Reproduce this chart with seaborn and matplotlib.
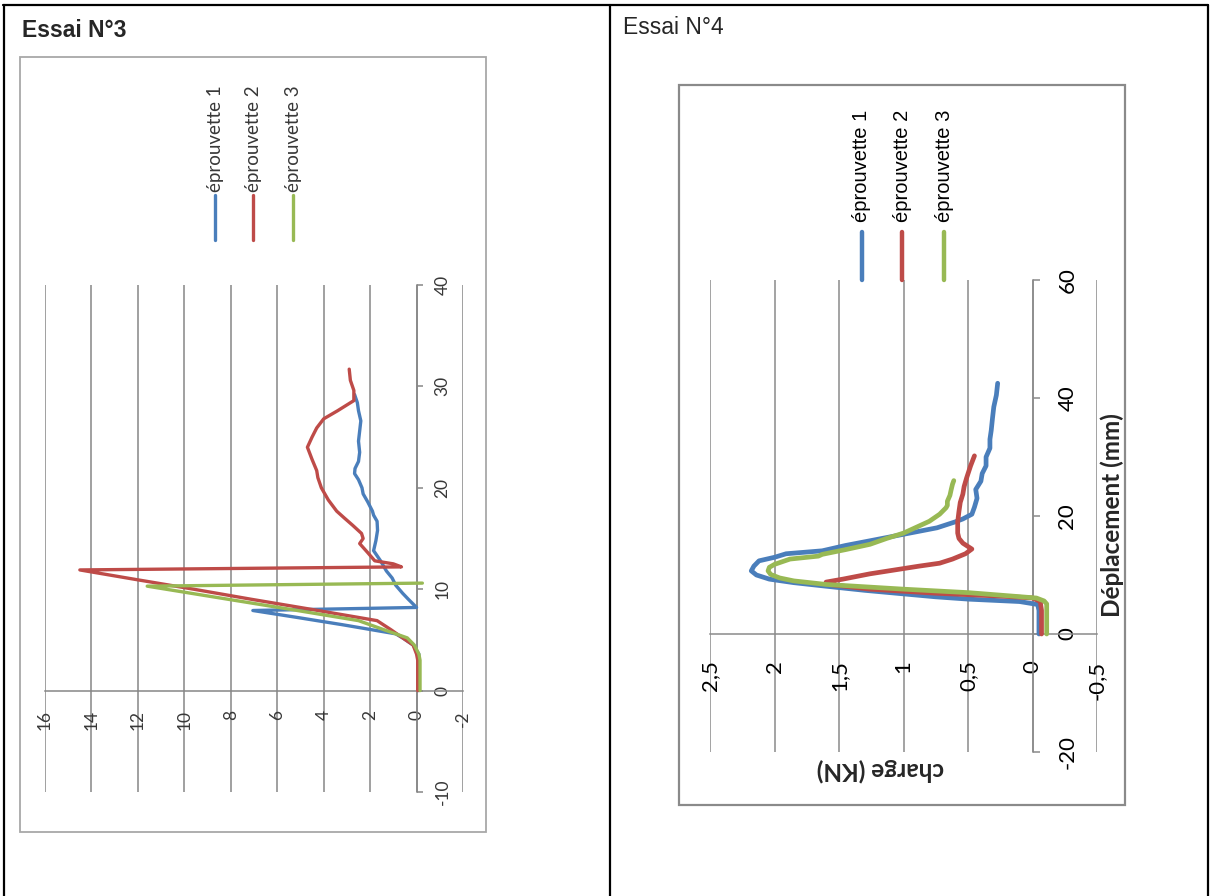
import matplotlib
matplotlib.use("Agg")
import matplotlib.pyplot as plt
import numpy as np
import pandas as pd
import seaborn as sns
from matplotlib.lines import Line2D
from matplotlib.patches import Rectangle
from matplotlib.ticker import FixedLocator, FuncFormatter

# ---------------------------------------------------------------------------
# Données : déplacement (mm) et charge (kN) pour chaque éprouvette
# ---------------------------------------------------------------------------
names = ["éprouvette 1", "éprouvette 2", "éprouvette 3"]
colors = ["#4a7ebb", "#be4b48", "#98b954"]

# Essai N°3
e3_dep_1 = [0, 1, 2, 3, 3.6, 4.5, 5.2, 5.6, 6.5, 7.2, 7.9, 8.2, 9.0, 9.6, 10.4, 11.1,
            11.8, 12.8, 13.8, 14.8, 15.8, 16.7, 17.3, 17.7, 18.6, 19.4, 20.0, 20.8,
            21.4, 21.9, 22.6, 23.5, 24.6, 25.6, 26.6, 27.6, 28.4, 29.2]
e3_chg_1 = [-0.1, -0.1, -0.1, -0.1, -0.1, 0.15, 0.6, 0.9, 3.2, 5.1, 7.05, 0.0, 0.35, 0.6,
            0.9, 1.05, 1.3, 1.55, 1.85, 1.75, 1.68, 1.7, 1.85, 1.9, 2.1, 2.3, 2.35, 2.5,
            2.67, 2.65, 2.5, 2.45, 2.5, 2.45, 2.4, 2.5, 2.55, 2.67]
e3_dep_2 = [0, 1, 2, 3, 3.6, 4.5, 5.2, 6.0, 6.9, 8.0, 9.0, 10.0, 11.0, 11.9, 12.2, 12.5,
            12.8, 13.6, 14.5, 15.0, 15.5, 16.3, 17.0, 17.7, 18.8, 20.0, 21.0, 21.7, 22.8,
            24.0, 25.0, 25.9, 26.8, 27.6, 28.6, 29.6, 30.6, 31.7]
e3_chg_2 = [-0.05, -0.05, -0.05, -0.05, 0.0, 0.15, 0.6, 1.1, 1.7, 4.5, 7.1, 9.6, 12.2,
            14.5, 0.65, 1.0, 1.8, 2.1, 2.45, 2.3, 2.37, 2.75, 3.1, 3.44, 3.8, 4.1, 4.25,
            4.3, 4.5, 4.7, 4.5, 4.3, 4.0, 3.4, 2.7, 2.7, 2.85, 2.9]
e3_dep_3 = [0, 1, 2, 3, 3.6, 4.5, 5.2, 6.0, 6.9, 8.0, 9.0, 10.3, 10.6]
e3_chg_3 = [-0.15, -0.15, -0.15, -0.15, -0.1, 0.1, 0.4, 1.4, 2.5, 5.4, 8.1, 11.6, -0.25]

# Essai N°4
e4_dep_1 = [0, 2, 4, 5.0, 5.5, 5.9, 6.3, 6.8, 7.4, 8.1, 8.7, 9.3, 10.0, 10.7, 11.5, 12.4,
            13.0, 13.6, 14.1, 15.0, 15.8, 16.9, 18.0, 19.0, 19.5, 20.3, 21.5, 23.0, 24.5,
            25.9, 27.2, 28.5, 30.0, 31.5, 33.0, 34.5, 36.6, 38.5, 40.5, 42.5]
e4_chg_1 = [-0.05, -0.05, -0.05, -0.04, 0.1, 0.49, 0.75, 1.0, 1.3, 1.6, 1.85, 2.04, 2.14,
            2.18, 2.16, 2.12, 2.0, 1.91, 1.63, 1.45, 1.26, 1.0, 0.74, 0.6, 0.54, 0.47,
            0.45, 0.43, 0.44, 0.40, 0.39, 0.36, 0.36, 0.33, 0.33, 0.32, 0.31, 0.30, 0.28,
            0.27]
e4_dep_2 = [0, 2, 4, 5.5, 6.1, 6.4, 6.9, 7.6, 8.4, 8.8, 9.3, 10.2, 11.5, 12.0, 12.7, 13.6,
            14.4, 15.4, 16.2, 17.1, 19.0, 20.8, 22.3, 23.7, 25.0, 26.5, 28.5, 30.2]
e4_chg_2 = [-0.07, -0.07, -0.07, -0.06, 0.0, 0.23, 0.74, 1.26, 1.58, 1.6, 1.47, 1.26, 0.88,
            0.72, 0.62, 0.52, 0.47, 0.54, 0.57, 0.58, 0.58, 0.57, 0.56, 0.54, 0.53, 0.51,
            0.48, 0.45]
e4_dep_3 = [0, 2, 4, 5.1, 5.6, 6.1, 6.5, 7.0, 7.6, 8.4, 9.0, 9.5, 10.1, 10.7, 11.3, 11.8,
            12.7, 13.2, 13.5, 14.3, 15.2, 16.2, 17.1, 18.1, 19.1, 20.3, 21.4, 21.8, 22.5,
            23.5, 24.5, 25.4, 26.0]
e4_chg_3 = [-0.11, -0.11, -0.11, -0.11, -0.09, -0.03, 0.2, 0.49, 1.0, 1.6, 1.85, 1.96, 2.03,
            2.05, 2.04, 2.0, 1.88, 1.66, 1.63, 1.45, 1.26, 1.13, 1.0, 0.9, 0.8, 0.72, 0.67,
            0.66, 0.66, 0.64, 0.63, 0.62, 0.61]

# Axes
e3_charge_ticks = [-2, 0, 2, 4, 6, 8, 10, 12, 14, 16]
e3_dep_ticks = [-10, 0, 10, 20, 30, 40]
e4_charge_ticks = [-0.5, 0, 0.5, 1, 1.5, 2, 2.5]
e4_dep_ticks = [-20, 0, 20, 40, 60]


def long_table(deps, chgs):
    frames = []
    for name, d, c in zip(names, deps, chgs):
        frames.append(pd.DataFrame({"dep": d, "charge": c, "serie": name}))
    return pd.concat(frames, ignore_index=True)


df3 = long_table([e3_dep_1, e3_dep_2, e3_dep_3], [e3_chg_1, e3_chg_2, e3_chg_3])
df4 = long_table([e4_dep_1, e4_dep_2, e4_dep_3], [e4_chg_1, e4_chg_2, e4_chg_3])

# ---------------------------------------------------------------------------
# Mise en page
# ---------------------------------------------------------------------------
sns.set_theme(style="white")
plt.rcParams["font.family"] = ["Lato", "DejaVu Sans"]
plt.rcParams["axes.unicode_minus"] = False

W, H = 1211, 896
fig = plt.figure(figsize=(W / 100, H / 100), dpi=100)
fig.patch.set_facecolor("white")


def fx(x):
    return x / W


def fy(y):
    return 1 - y / H


def fbox(x0, y0, x1, y1):
    return [fx(x0), fy(y1), (x1 - x0) / W, (y1 - y0) / H]


# Tableau
for (xa, ya, xb, yb) in [(3, 5, 1208, 5), (4, 5, 4, 896), (610, 5, 610, 896),
                         (1208, 5, 1208, 896)]:
    fig.add_artist(Line2D([fx(xa), fx(xb)], [fy(ya), fy(yb)], transform=fig.transFigure,
                          color="black", lw=1.6))

fig.text(fx(22), fy(37), "Essai N°3", fontsize=16.5, fontweight="bold",
         family=["Liberation Sans", "DejaVu Sans"], va="baseline", ha="left")
fig.text(fx(623), fy(34), "Essai N°4", fontsize=16.5,
         family=["Liberation Sans", "DejaVu Sans"], va="baseline", ha="left")

# Cadres des graphiques
fig.add_artist(Rectangle((fx(20), fy(832)), (486 - 20) / W, (832 - 57) / H,
                         transform=fig.transFigure, fill=False, ec="#a8a8a8", lw=1.3))
fig.add_artist(Rectangle((fx(679), fy(805)), (1125 - 679) / W, (805 - 85) / H,
                         transform=fig.transFigure, fill=False, ec="#8a8a8a", lw=1.6))


def comma(v, pos=None):
    return f"{v:g}".replace(".", ",")


def style_axes(ax, xlim, ylim, cticks, dticks, grid_color, tick_len, tick_pad_d,
               tick_pad_c, size, text_color):
    ax.set_xlim(*xlim)
    ax.set_ylim(*ylim)
    ax.set_xlabel("")
    ax.set_ylabel("")
    ax.set_facecolor("none")
    ax.xaxis.set_major_locator(FixedLocator(cticks))
    ax.yaxis.set_major_locator(FixedLocator(dticks))
    ax.xaxis.set_major_formatter(FuncFormatter(comma))
    ax.yaxis.set_major_formatter(FuncFormatter(comma))
    for side in ["top", "left"]:
        ax.spines[side].set_visible(False)
    ax.spines["bottom"].set_position(("data", 0))
    ax.spines["right"].set_position(("data", 0))
    for side in ["bottom", "right"]:
        ax.spines[side].set_color(grid_color)
        ax.spines[side].set_linewidth(1.1)
        ax.spines[side].set_zorder(1)
    ax.yaxis.tick_right()
    ax.tick_params(axis="y", direction="out", length=tick_len, width=1.1,
                   color=grid_color, pad=tick_pad_d, labelrotation=90,
                   labelsize=size, labelcolor=text_color, left=False, right=True)
    ax.tick_params(axis="x", length=0, pad=tick_pad_c, labelrotation=90,
                   labelsize=size, labelcolor=text_color)
    plt.setp(ax.get_yticklabels(), va="center", ha="left")
    ax.grid(axis="x", color=grid_color, lw=1.1)
    ax.grid(axis="y", visible=False)
    ax.set_axisbelow(True)


# ---------------------------------------------------------------------------
# Essai N°3
# ---------------------------------------------------------------------------
ax3 = fig.add_axes(fbox(45, 285, 463, 792))
sns.lineplot(data=df3, x="charge", y="dep", hue="serie", hue_order=names,
             palette=colors, sort=False, estimator=None, lw=2.4, legend=False,
             solid_joinstyle="round", ax=ax3, zorder=3)
style_axes(ax3, (16, -2), (-10, 40), e3_charge_ticks, e3_dep_ticks, "#868686",
           4, 9, 14, 12.5, "#383838")

for xc, name, col in zip([215, 253, 293], names, colors):
    fig.add_artist(Line2D([fx(xc), fx(xc)], [fy(240), fy(195)], transform=fig.transFigure,
                          color=col, lw=2.4))
    fig.text(fx(xc), fy(192), name, rotation=90, ha="center", va="bottom",
             fontsize=13.5, color="#383838")

# ---------------------------------------------------------------------------
# Essai N°4
# ---------------------------------------------------------------------------
ax4 = fig.add_axes(fbox(710, 280, 1097, 752))
sns.lineplot(data=df4, x="charge", y="dep", hue="serie", hue_order=names,
             palette=colors, sort=False, estimator=None, lw=3.4, legend=False,
             solid_joinstyle="round", solid_capstyle="round", ax=ax4, zorder=3)
style_axes(ax4, (2.5, -0.5), (-20, 60), e4_charge_ticks, e4_dep_ticks, "#8a8a8a",
           5, 13, 19, 16, "black")

for xc, name, col in zip([862, 902, 944], names, colors):
    fig.add_artist(Line2D([fx(xc), fx(xc)], [fy(280), fy(232)], transform=fig.transFigure,
                          color=col, lw=3.2, solid_capstyle="round"))
    fig.text(fx(xc), fy(222), name, rotation=90, ha="center", va="bottom",
             fontsize=14.5, family=["Liberation Sans", "DejaVu Sans"], color="black")

fig.text(fx(1112), fy(515), "Déplacement (mm)", rotation=90, ha="center", va="center",
         fontsize=17.5, fontweight="bold")
fig.text(fx(880), fy(770), "charge (KN)", rotation=180, ha="center", va="center",
         fontsize=17.5, fontweight="bold")

fig.savefig("out.png", dpi=100, facecolor="white")
